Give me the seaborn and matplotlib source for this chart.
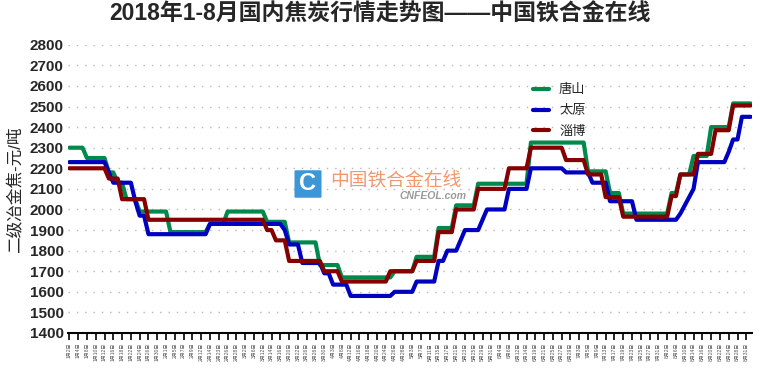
import numpy as np
import pandas as pd
import seaborn as sns
import matplotlib.pyplot as plt
from matplotlib.patches import FancyBboxPatch

# series (step levels and how many points each level lasts)
names = ['唐山', '太原', '淄博']
colors = ['#00894a', '#0000c0', '#850000']

tangshan_levels = [2300, 2250, 2180, 2130, 2050, 1990, 1890, 1930, 1990, 1940, 1840, 1730, 1670, 1700,
                   1770, 1910, 2020, 2125, 2325, 2185, 2080, 1980, 2080, 2170, 2260, 2400, 2515]
tangshan_days = [4, 5, 2, 2, 3, 7, 9, 4, 9, 5, 7, 5, 12, 5,
                 5, 4, 5, 12, 13, 5, 3, 11, 2, 3, 4, 5, 5]

taiyuan_levels = [2230, 2180, 2130, 2040, 1970, 1880, 1930, 1900, 1830, 1740, 1690, 1635, 1580, 1600,
                  1650, 1750, 1800, 1850, 1900, 1950, 2000, 2100, 2200, 2180, 2130, 2040, 1950,
                  1980, 2020, 2060, 2100, 2230, 2280, 2340, 2450]
taiyuan_days = [9, 1, 5, 1, 2, 14, 17, 1, 3, 5, 2, 4, 10, 5,
                5, 2, 3, 1, 4, 1, 5, 5, 8, 6, 4, 6, 10,
                1, 1, 1, 1, 7, 1, 2, 3]

zibo_levels = [2200, 2150, 2050, 1950, 1900, 1850, 1750, 1700, 1650, 1700, 1750, 1890, 2000,
               2100, 2200, 2300, 2240, 2170, 2060, 1965, 2065, 2170, 2270, 2385, 2505]
zibo_days = [9, 3, 6, 27, 2, 3, 8, 4, 11, 6, 5, 4, 5,
             7, 5, 8, 5, 4, 4, 11, 2, 4, 4, 4, 5]

date_labels = [
    '1月2日', '1月4日', '1月8日', '1月10日', '1月12日', '1月16日', '1月18日', '1月22日', '1月24日', '1月26日', '1月30日',
    '2月1日', '2月5日', '2月7日', '2月9日', '2月12日', '2月14日', '2月23日', '2月26日', '2月28日',
    '3月2日', '3月6日', '3月12日', '3月14日', '3月16日', '3月20日', '3月22日', '3月26日', '3月28日', '3月30日',
    '4月3日', '4月8日', '4月12日', '4月16日', '4月18日', '4月20日', '4月24日', '4月26日', '4月28日',
    '5月3日', '5月7日', '5月11日', '5月15日', '5月17日', '5月21日', '5月23日', '5月25日', '5月29日', '5月31日',
    '6月4日', '6月6日', '6月12日', '6月14日', '6月19日', '6月21日', '6月25日', '6月27日', '6月29日',
    '7月3日', '7月5日', '7月9日', '7月13日', '7月17日', '7月19日', '7月23日', '7月25日', '7月27日', '7月31日',
    '8月2日', '8月6日', '8月10日', '8月14日', '8月16日', '8月20日', '8月22日', '8月24日', '8月28日', '8月31日']

series = {
    '唐山': np.repeat(tangshan_levels, tangshan_days),
    '太原': np.repeat(taiyuan_levels, taiyuan_days),
    '淄博': np.repeat(zibo_levels, zibo_days),
}
n = len(series['唐山'])

sns.set_theme(style='white')
plt.rcParams['font.family'] = ['Liberation Sans', 'Noto Sans CJK SC', 'DejaVu Sans']

fig = plt.figure(figsize=(7.6, 3.7), dpi=100)
ax = fig.add_axes([0.0895, 0.1, 0.9, 0.779])

for name, color in zip(names, colors):
    df = pd.DataFrame({'idx': np.arange(n), 'price': series[name]})
    sns.lineplot(data=df, x='idx', y='price', color=color, linewidth=3.0, label=name, ax=ax, zorder=3)

ax.set_xlim(-0.3, n - 0.7)
ax.set_ylim(1400, 2800)
ax.set_yticks(range(1400, 2801, 100))
ax.set_yticklabels([str(v) for v in range(1400, 2801, 100)], fontsize=11, fontweight='bold')
ax.set_xticks(range(0, 2 * len(date_labels), 2))
ax.set_xticklabels(date_labels, rotation=90, fontsize=3.6, color='#555555')
ax.tick_params(axis='x', direction='out', length=5, width=1.2, color='black', pad=2, bottom=True)
ax.tick_params(axis='y', length=0, pad=3)
ax.set_xlabel('')
ax.set_ylabel('')

for v in range(1500, 2801, 100):
    ax.axhline(v, color='#b8b8b8', linestyle=(0, (1, 5)), linewidth=1, zorder=1)

for s in ['top', 'right', 'left']:
    ax.spines[s].set_visible(False)
ax.spines['bottom'].set_color('black')
ax.spines['bottom'].set_linewidth(1.5)

ax.legend(loc='upper left', bbox_to_anchor=(0.662, 0.905), frameon=False, fontsize=9.5,
          handlelength=1.2, labelspacing=0.65, handletextpad=0.8)

fig.text(0.5, 0.962, '2018年1-8月国内焦炭行情走势图——中国铁合金在线', ha='center', va='center',
         fontsize=16.5, fontweight='bold')
fig.text(0.02, 0.486, '二级冶金焦-元/吨', rotation=90, ha='center', va='center', fontsize=12)

# watermark
logo = FancyBboxPatch((296 / 760, 1 - 197 / 370), 24 / 760, 26 / 370, boxstyle='round,pad=0.002',
                      transform=fig.transFigure, facecolor='#3d96d6', edgecolor='none', zorder=0)
fig.patches.append(logo)
fig.text(308 / 760, 1 - 184 / 370, 'C', color='white', fontsize=17, fontweight='bold',
         ha='center', va='center')
fig.text(330 / 760, 1 - 180 / 370, '中国铁合金在线', color='#f28c5e', fontsize=13.5,
         ha='left', va='center', alpha=0.9)
fig.text(466 / 760, 1 - 196 / 370, 'CNFEOL.com', color='#9a9a9a', fontsize=7.5, style='italic',
         fontweight='bold', ha='right', va='center')

fig.savefig('out.png', dpi=100)
